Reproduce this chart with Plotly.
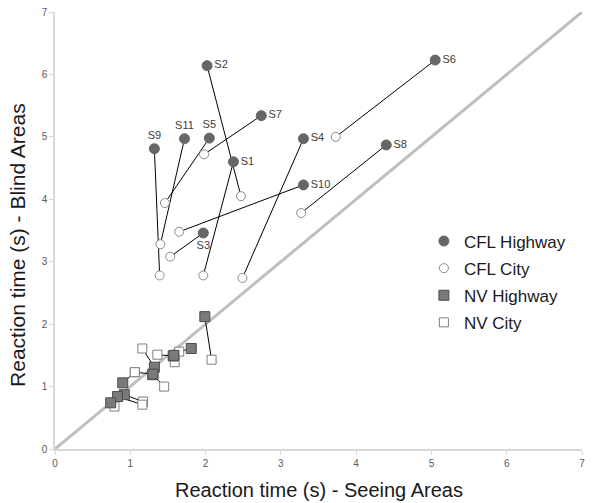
import plotly.graph_objects as go

# CFL data (seeing, blind)
cfl_labels = ["S1", "S2", "S3", "S4", "S5", "S6", "S7", "S8", "S9", "S10", "S11"]
cfl_hw_x = [2.37, 2.02, 1.97, 3.30, 2.05, 5.05, 2.74, 4.40, 1.32, 3.30, 1.72]
cfl_hw_y = [4.60, 6.14, 3.46, 4.97, 4.98, 6.23, 5.34, 4.87, 4.81, 4.23, 4.97]
cfl_city_x = [1.97, 2.47, 1.53, 2.49, 1.46, 3.73, 1.98, 3.27, 1.39, 1.65, 1.40]
cfl_city_y = [2.78, 4.05, 3.08, 2.74, 3.94, 5.00, 4.72, 3.78, 2.78, 3.48, 3.28]
label_pos = ["middle right", "middle right", "bottom center", "middle right", "top center",
             "middle right", "middle right", "middle right", "top center", "middle right", "top center"]

# NV data
nv_hw_x = [1.99, 1.81, 1.57, 1.58, 1.32, 1.30, 0.90, 0.92, 0.83, 0.74, 1.30]
nv_hw_y = [2.12, 1.61, 1.49, 1.50, 1.31, 1.19, 1.06, 0.87, 0.84, 0.74, 1.20]
nv_city_x = [2.08, 1.65, 1.36, 1.59, 1.16, 1.45, 1.06, 1.17, 1.16, 0.79, 1.06]
nv_city_y = [1.43, 1.56, 1.51, 1.39, 1.61, 1.00, 1.23, 0.76, 0.71, 0.68, 1.23]

diag = [0, 7]

x_title = "Reaction time (s) - Seeing Areas"
y_title = "Reaction time (s) - Blind Areas"

fig = go.Figure()

fig.add_trace(go.Scatter(x=diag, y=diag, mode="lines",
                         line=dict(color="#bfbfbf", width=3), showlegend=False, hoverinfo="skip"))

def connectors(ax, ay, bx, by):
    xs, ys = [], []
    for a, b, c, d in zip(ax, ay, bx, by):
        xs += [a, c, None]
        ys += [b, d, None]
    return xs, ys

lx, ly = connectors(cfl_hw_x, cfl_hw_y, cfl_city_x, cfl_city_y)
fig.add_trace(go.Scatter(x=lx, y=ly, mode="lines", line=dict(color="black", width=1),
                         showlegend=False, hoverinfo="skip"))
lx, ly = connectors(nv_hw_x, nv_hw_y, nv_city_x, nv_city_y)
fig.add_trace(go.Scatter(x=lx, y=ly, mode="lines", line=dict(color="black", width=1),
                         showlegend=False, hoverinfo="skip"))

fig.add_trace(go.Scatter(x=cfl_city_x, y=cfl_city_y, mode="markers", name="CFL City",
                         legendgroup="b", legendrank=2,
                         marker=dict(symbol="circle", size=9, color="white",
                                     line=dict(color="#8c8c8c", width=1))))
fig.add_trace(go.Scatter(x=cfl_hw_x, y=cfl_hw_y, mode="markers+text", name="CFL Highway",
                         legendgroup="a", legendrank=1,
                         text=cfl_labels, textposition=label_pos,
                         textfont=dict(size=11, color="#404040", family="Liberation Sans"),
                         marker=dict(symbol="circle", size=10, color="#666666",
                                     line=dict(color="#666666", width=1))))
fig.add_trace(go.Scatter(x=nv_city_x, y=nv_city_y, mode="markers", name="NV City",
                         legendgroup="d", legendrank=4,
                         marker=dict(symbol="square", size=9, color="white",
                                     line=dict(color="#7f7f7f", width=1))))
fig.add_trace(go.Scatter(x=nv_hw_x, y=nv_hw_y, mode="markers", name="NV Highway",
                         legendgroup="c", legendrank=3,
                         marker=dict(symbol="square", size=10, color="#7a7a7a",
                                     line=dict(color="#4d4d4d", width=1))))

axis_common = dict(range=[0, 7], dtick=1, showgrid=False, zeroline=False,
                   showline=True, linecolor="#d9d9d9", linewidth=1.5,
                   ticks="outside", tickcolor="#d9d9d9", ticklen=4, automargin=False,
                   tickfont=dict(size=10, color="#595959", family="Liberation Sans"))

fig.update_layout(
    width=600, height=503,
    margin=dict(l=55, r=18, t=12, b=54),
    plot_bgcolor="white", paper_bgcolor="white",
    font=dict(family="Liberation Sans"),
    xaxis=dict(**axis_common),
    yaxis=dict(**axis_common),
    legend=dict(x=0.70, y=0.516, xanchor="left", yanchor="top",
                font=dict(size=17, color="#1a1a1a"), tracegroupgap=2,
                bgcolor="rgba(0,0,0,0)", itemwidth=30),
    showlegend=True,
    annotations=[
        dict(text=x_title, xref="paper", yref="paper", x=0.5, y=0, xanchor="center",
             yanchor="middle", yshift=-41, showarrow=False,
             font=dict(size=20, color="#1a1a1a")),
        dict(text=y_title, xref="paper", yref="paper", x=0, y=0.467, xanchor="center",
             yanchor="middle", xshift=-37, textangle=-90, showarrow=False,
             font=dict(size=21, color="#1a1a1a")),
    ],
)

fig.write_html("out.html", config={"displayModeBar": False},
               post_script="document.body.style.margin='0px';")
